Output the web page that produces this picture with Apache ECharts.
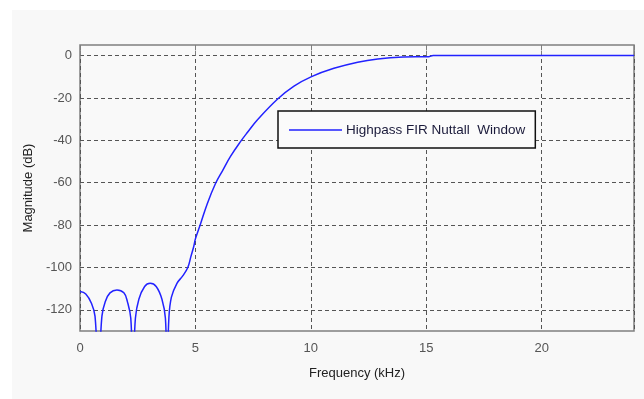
<!DOCTYPE html>
<html>
<head>
<meta charset="utf-8">
<script src="https://cdn.jsdelivr.net/npm/echarts@6/dist/echarts.min.js"></script>
<style>
html,body{margin:0;padding:0;background:#ffffff;}
#chart{width:644px;height:399px;}
</style>
</head>
<body>
<div id="chart"></div>
<script>
const freqKHz = [0, 0.25, 0.5, 0.65, 0.8, 0.95, 1.1, 1.3, 1.6, 1.9, 2.05, 2.2, 2.29, 2.4, 2.55, 2.8, 3.04, 3.3, 3.55, 3.7, 3.77, 3.85, 3.96, 4.2, 4.45, 4.67, 4.8, 4.93, 5.0, 5.22, 5.51, 5.87, 6.16, 6.52, 6.96, 7.25, 7.68, 8.55, 9.27, 10.03, 11.0, 12.03, 12.9, 14.0, 15.1, 15.3, 24];
const magnitudeDB = [-111.4, -112.5, -117, -123, -150, -123, -116, -112, -110.6, -112, -116, -124, -150, -124, -115, -109, -107.5, -109, -115, -124, -150, -124, -114, -107.5, -104, -100, -95, -90, -86.5, -79.5, -70, -60.4, -54.6, -47.6, -40.5, -36.3, -30.4, -20.6, -14.4, -9.9, -6.0, -3.1, -1.6, -0.7, -0.5, 0, 0];
const xTicks = [0, 5, 10, 15, 20];
const yTicks = [0, -20, -40, -60, -80, -100, -120];
const seriesName = 'Highpass FIR Nuttall  Window';

const data = freqKHz.map((f, i) => [f, magnitudeDB[i]]);
const font = '"Liberation Sans", Arial, sans-serif';
const gridCol = '#555555';
// y ticks every 10 from -130: color cycle shows only multiples of 20
const ySplitColors = ['rgba(0,0,0,0)', gridCol];

const chart = echarts.init(document.getElementById('chart'), null, {renderer: 'canvas'});
chart.setOption({
  backgroundColor: '#ffffff',
  animation: false,
  graphic: [{
    type: 'rect', z: -10, silent: true,
    shape: {x: 12, y: 10, width: 632, height: 389},
    style: {fill: '#f8f8f8'}
  }],
  grid: {left: 80, right: 10, top: 45, bottom: 68, show: true, borderColor: '#7f7f7f', borderWidth: 1.5, backgroundColor: '#f9f9f9'},
  legend: {
    show: true,
    left: 278, top: 111,
    orient: 'horizontal',
    backgroundColor: '#fbfbfb',
    borderColor: '#111111', borderWidth: 1.5, borderRadius: 0,
    padding: [12, 10, 11, 11],
    itemWidth: 53, itemHeight: 14, itemGap: 5,
    textStyle: {fontFamily: font, fontSize: 13.5, color: '#1a1a3a', padding: [0, 0, 0, -1]},
    data: [{name: seriesName, icon: 'path://M0,0H53V1.5H0Z', itemStyle: {color: '#2222ff'}}]
  },
  xAxis: [{
    type: 'value', min: 0, max: 24, interval: 5, position: 'bottom',
    name: 'Frequency (kHz)', nameLocation: 'middle', nameGap: 36,
    nameTextStyle: {fontFamily: font, fontSize: 13, color: '#222'},
    axisLine: {show: false},
    axisTick: {show: true, inside: true, length: 5, lineStyle: {color: '#7f7f7f'}},
    axisLabel: {fontFamily: font, fontSize: 13, color: '#555', margin: 11,
      formatter: v => (xTicks.indexOf(v) >= 0 ? String(v) : '')},
    splitLine: {show: true, lineStyle: {color: gridCol, type: [4, 3], width: 1}}
  }, {
    type: 'value', min: 0, max: 24, interval: 5, position: 'top',
    axisLine: {show: false},
    axisTick: {show: true, inside: true, length: 5, lineStyle: {color: '#7f7f7f'}},
    axisLabel: {show: false},
    splitLine: {show: false}
  }],
  yAxis: [{
    type: 'value', min: -130, max: 5, interval: 10,
    name: 'Magnitude (dB)', nameLocation: 'middle', nameGap: 42, nameRotate: 90,
    nameTextStyle: {fontFamily: font, fontSize: 13, color: '#222'},
    axisLine: {show: false},
    axisTick: {show: false},
    axisLabel: {fontFamily: font, fontSize: 13, color: '#555', margin: 8,
      formatter: v => (yTicks.indexOf(v) >= 0 ? String(v) : '')},
    splitLine: {show: true, lineStyle: {color: ySplitColors, type: [4, 3], width: 1}}
  }],
  series: [{
    name: seriesName,
    type: 'line',
    xAxisIndex: 0, yAxisIndex: 0,
    data: data,
    symbol: 'none',
    smooth: 0.4,
    clip: true,
    lineStyle: {color: '#2222ff', width: 1.5},
    itemStyle: {color: '#2222ff'},
    z: 5
  }]
});
</script>
</body>
</html>
